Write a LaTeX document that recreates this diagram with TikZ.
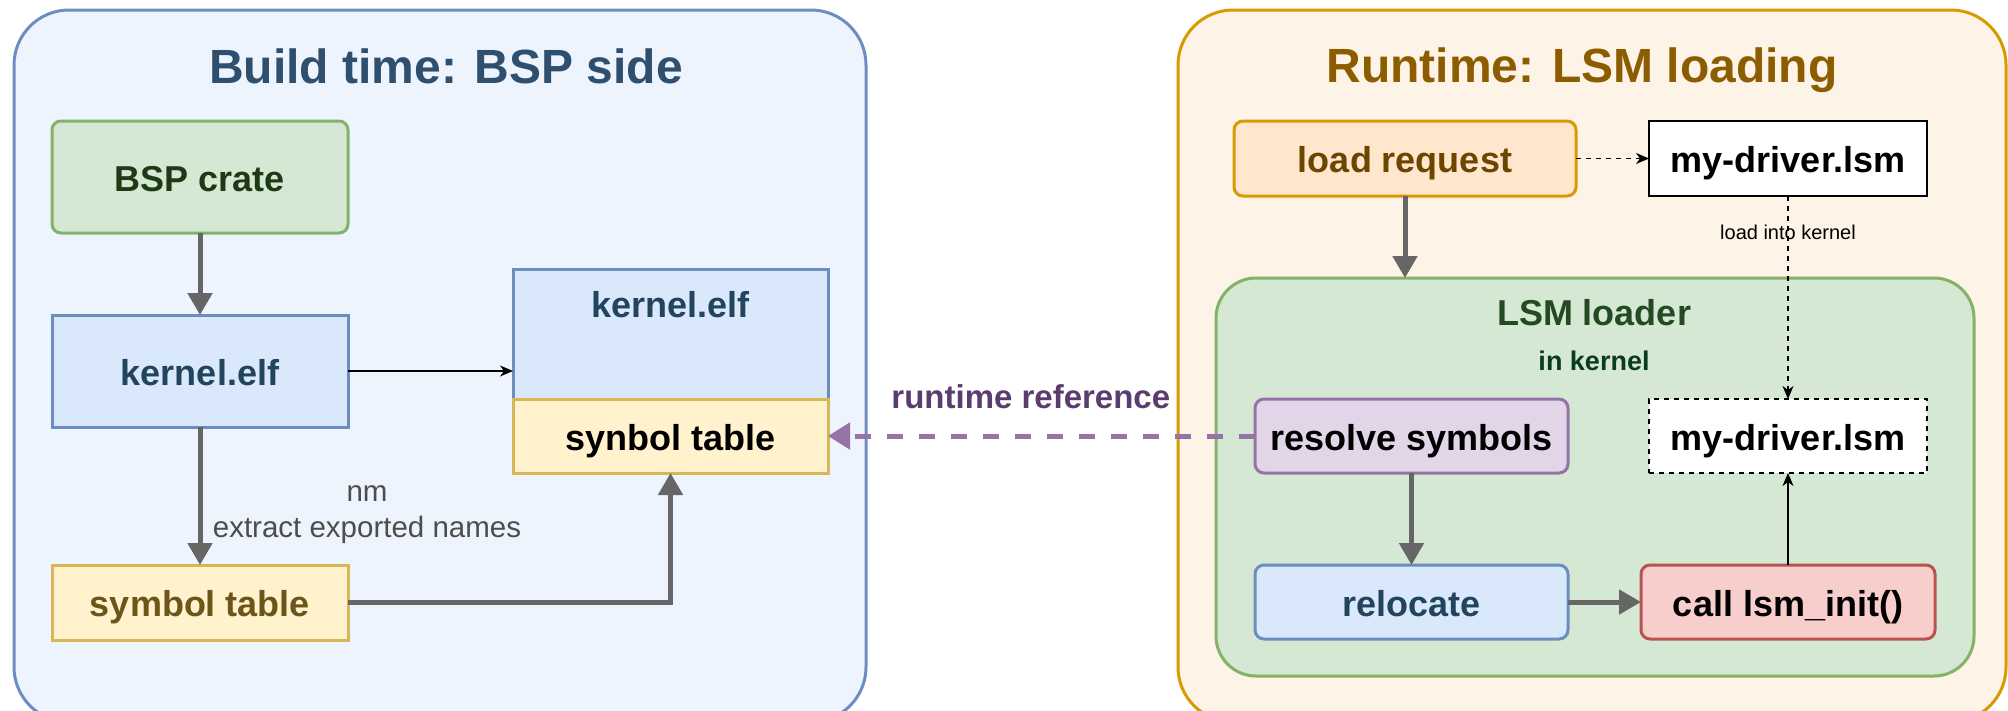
\documentclass[tikz,border=0pt]{standalone}
\usepackage{fontspec}
\setmainfont{Liberation Sans}
\usetikzlibrary{arrows.meta}
\definecolor{lfill}{HTML}{EEF4FD}
\definecolor{lstroke}{HTML}{6C8EBF}
\definecolor{rfill}{HTML}{FEF3E7}
\definecolor{rstroke}{HTML}{D79B00}
\definecolor{gfill}{HTML}{D5E8D4}
\definecolor{gstroke}{HTML}{82B366}
\definecolor{bfill}{HTML}{DAE8FC}
\definecolor{bstroke}{HTML}{6C8EBF}
\definecolor{yfill}{HTML}{FFF2CC}
\definecolor{ystroke}{HTML}{D6B656}
\definecolor{ofill}{HTML}{FFE6CC}
\definecolor{ostroke}{HTML}{D79B00}
\definecolor{pfill}{HTML}{E1D5E7}
\definecolor{pstroke}{HTML}{9673A6}
\definecolor{redfill}{HTML}{F8CECC}
\definecolor{redstroke}{HTML}{B85450}
\definecolor{arrgray}{HTML}{666666}
\definecolor{ttlblue}{HTML}{2F4F6F}
\definecolor{ttlbrown}{HTML}{8C5C00}
\definecolor{txtgreen}{HTML}{1E3A14}
\definecolor{txtblue}{HTML}{23445D}
\definecolor{txtolive}{HTML}{6B5518}
\definecolor{txtbrown}{HTML}{6B4600}
\definecolor{txtlsm}{HTML}{234A20}
\definecolor{txtkern}{HTML}{0A3B1E}
\definecolor{txtpurple}{HTML}{5A3C6E}
\definecolor{txtgray}{HTML}{4D4D4D}
\newcommand\fsttl{\fontsize{48}{58}\selectfont\bfseries}
\newcommand\fsbox{\fontsize{36}{43}\selectfont\bfseries}
\newcommand\fssub{\fontsize{27}{32}\selectfont\bfseries}
\newcommand\fsref{\fontsize{33}{40}\selectfont\bfseries}
\newcommand\fsnm{\fontsize{29.5}{36}\selectfont}
\newcommand\fssmall{\fontsize{20}{24}\selectfont}
\begin{document}
\begin{tikzpicture}[x=1pt,y=-1pt,
  every node/.style={outer sep=0pt, inner sep=0pt},
  container/.style={draw, line width=3pt, rounded corners=55pt},
  boxx/.style={draw, line width=3pt, font=\fsbox, text height=31pt, text depth=3pt},
  rbox/.style={boxx, rounded corners=9pt},
  wbox/.style={draw, line width=1.5pt, fill=white, font=\fsbox, text height=31pt, text depth=3pt},
  garrow/.style={draw=arrgray, line width=5pt, -{Triangle[length=22pt,width=24pt]}},
  thinarrow/.style={draw=black, line width=1.5pt, -{Stealth[length=13pt,width=11pt,inset=4pt]}},
  dasharrow/.style={thinarrow, dash pattern=on 5pt off 5pt},
  refarrow/.style={draw=pstroke, line width=5pt, dash pattern=on 16pt off 16pt, -{Triangle[length=22pt,width=26pt]}},
]
\useasboundingbox (0,0) rectangle (2008,710);
\fill[white] (0,0) rectangle (2008,710);
\begin{scope}
\clip (0,0) rectangle (2008,710);
\node[container, draw=lstroke, fill=lfill, minimum width=852pt, minimum height=712pt] (left) at (440,366) {};
\node[container, draw=rstroke, fill=rfill, minimum width=828pt, minimum height=712pt] (right) at (1592,366) {};
\end{scope}
\node[anchor=base, font=\fsttl, text=ttlblue] (lttl) at (446,83) {Build time: BSP side};
\node[anchor=base, font=\fsttl, text=ttlbrown] (rttl) at (1582,82) {Runtime: LSM loading};

% left side
\node[rbox, draw=gstroke, fill=gfill, text=txtgreen, minimum width=296pt, minimum height=112pt] (bsp) at (200,177) {BSP crate};
\node[boxx, draw=bstroke, fill=bfill, text=txtblue, minimum width=296pt, minimum height=112pt] (kelf) at (200,371) {kernel.elf};
\node[boxx, draw=ystroke, fill=yfill, text=txtolive, minimum width=296pt, minimum height=75pt] (sym) at (200,602.5) {symbol table};
\node[boxx, draw=bstroke, fill=bfill, minimum width=315pt, minimum height=204pt] (kelf2) at (670.5,371) {};
\node[anchor=base, font=\fsbox, text=txtblue] (kelf2t) at (670.5,317) {kernel.elf};
\node[boxx, draw=ystroke, fill=yfill, text=black, minimum width=315pt, minimum height=74pt] (synbol) at (670.5,436) {synbol table};

\draw[garrow] (bsp.south) -- (kelf.north);
\draw[garrow] (kelf.south) -- node[midway, xshift=167pt, yshift=-19pt, align=center, font=\fsnm, text=txtgray] (nmlbl) {nm\\extract exported names} (sym.north);
\draw[thinarrow] (kelf.east) -- (kelf2.west);
\draw[garrow] (sym.east) -| (synbol.south);

% right side
\node[rbox, draw=ostroke, fill=ofill, text=txtbrown, minimum width=342pt, minimum height=75pt] (load) at (1405,158.5) {load request};
\node[wbox, minimum width=278pt, minimum height=75pt] (drv1) at (1788,158.5) {my-driver.lsm};
\node[draw=gstroke, fill=gfill, line width=3pt, rounded corners=40pt, minimum width=758pt, minimum height=398pt] (lsm) at (1595,477) {};
\node[anchor=base, font=\fsbox, text=txtlsm] (lsmt) at (1594,325) {LSM loader};
\node[anchor=base, font=\fssub, text=txtkern] (lsms) at (1594,370) {in kernel};
\node[rbox, draw=pstroke, fill=pfill, text=black, minimum width=313pt, minimum height=74pt] (resolve) at (1411.5,436) {resolve symbols};
\node[wbox, dash pattern=on 5pt off 5pt, minimum width=278pt, minimum height=74pt] (drv2) at (1788,436) {my-driver.lsm};
\node[rbox, draw=bstroke, fill=bfill, text=txtblue, minimum width=313pt, minimum height=74pt] (reloc) at (1411.5,602) {relocate};
\node[rbox, draw=redstroke, fill=redfill, text=black, minimum width=294pt, minimum height=74pt] (call) at (1788,602) {call lsm\_init()};

\draw[dasharrow] (load.east) -- (drv1.west);
\draw[garrow] (load.south) -- (load.south |- lsm.north);
\draw[dasharrow] (drv1.south) -- node[pos=0.213, anchor=base, font=\fssmall, text=black] (intolbl) {load into kernel} (drv2.north);
\draw[garrow] (resolve.south) -- (reloc.north);
\draw[garrow] (reloc.east) -- (call.west);
\draw[thinarrow] (call.north) -- (drv2.south);
\draw[refarrow] (resolve.west) -- node[pos=0.525, anchor=base, yshift=28pt, font=\fsref, text=txtpurple] (reflbl) {runtime reference} (synbol.east);
\end{tikzpicture}
\end{document}
